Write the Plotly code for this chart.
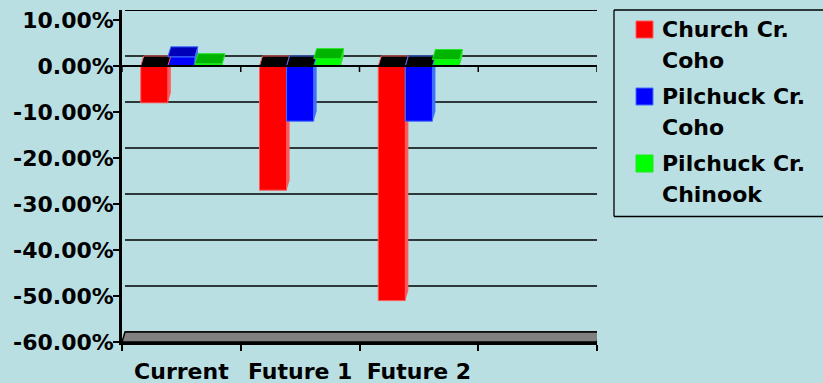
import plotly.graph_objects as go

# ---------------- data ----------------
categories = ["Current", "Future 1", "Future 2"]
church_coho = [-8.0, -27.0, -51.0]
pilchuck_coho = [2.0, -12.0, -12.0]
pilchuck_chinook = [0.5, 1.6, 1.4]
series_lines = [["Church Cr.", "Coho"], ["Pilchuck Cr.", "Coho"], ["Pilchuck Cr.", "Chinook"]]
y_ticks = [-60, -50, -40, -30, -20, -10, 0, 10]
y_tick_labels = [f"{v:.2f}%" for v in y_ticks]

# ---------------- styling ----------------
BG = "#B9DFE3"
FONT = "DejaVu Sans, sans-serif"
FS = 22
front_colors = ["#FF0000", "#0000FF", "#00FF00"]
top_pos_colors = ["#C00000", "#0000B8", "#00B400"]
edge_colors = ["#FF5A5A", "#3F6FFF", "#20E620"]

W, H = 823, 383
ML, MR, MT, MB = 122, 226, 10, 41
PW, PH = W - ML - MR, H - MT - MB
N_SLOTS = 4                      # one empty category slot at the right
X_RANGE = [-0.5, N_SLOTS - 0.5]
PX_PER_UNIT = (342 - 20) / 70.0
DY = 10 / PX_PER_UNIT            # depth offset (vertical) in data units
Y_RANGE = [-60, 10 + DY]
DX = 3 / (PW / N_SLOTS)          # depth offset (horizontal) in data units
GROUP = 0.684
BW = GROUP / 3

series = [church_coho, pilchuck_coho, pilchuck_chinook]
xs = list(range(len(categories)))

fig = go.Figure()
shapes = []

def poly(pts):
    return "M " + " L ".join(f"{x},{y}" for x, y in pts) + " Z"

# back wall grid lines
for v in y_ticks:
    shapes.append(dict(type="line", xref="x", yref="y", layer="below",
                       x0=X_RANGE[0] + DX, x1=X_RANGE[1] + DX, y0=v + DY, y1=v + DY,
                       line=dict(color="black", width=1.3)))
# back wall right edge
shapes.append(dict(type="line", xref="x", yref="y", layer="below",
                   x0=X_RANGE[1] + DX, x1=X_RANGE[1] + DX, y0=-60 + DY, y1=10 + DY,
                   line=dict(color="black", width=1.5)))
# floor
shapes.append(dict(type="path", xref="x", yref="y", layer="below",
                   path=poly([(X_RANGE[0], -60), (X_RANGE[1], -60),
                              (X_RANGE[1] + DX, -60 + DY), (X_RANGE[0] + DX, -60 + DY)]),
                   fillcolor="#808080", line=dict(color="black", width=1.5)))

# bars
for i, vals in enumerate(series):
    off = -GROUP / 2 + i * BW
    fig.add_trace(go.Bar(x=xs, y=vals, name=" ".join(series_lines[i]), width=BW, offset=off,
                         marker=dict(color=front_colors[i],
                                     line=dict(color=edge_colors[i], width=1)),
                         showlegend=False))
    for xc, v in zip(xs, vals):
        x0, x1 = xc + off, xc + off + BW
        # side face (below traces so neighbours hide it)
        shapes.append(dict(type="path", xref="x", yref="y", layer="below",
                           path=poly([(x1, 0), (x1 + DX, DY), (x1 + DX, v + DY), (x1, v)]),
                           fillcolor=edge_colors[i], line=dict(width=0)))
        # top face
        top = max(v, 0)
        fill = top_pos_colors[i] if v > 0 else "black"
        shapes.append(dict(type="path", xref="x", yref="y", layer="above",
                           path=poly([(x0, top), (x1, top), (x1 + DX, top + DY), (x0 + DX, top + DY)]),
                           fillcolor=fill, line=dict(color=edge_colors[i], width=1)))

# top edge of back wall
shapes.append(dict(type="line", xref="x", yref="y", layer="above",
                   x0=X_RANGE[0] + DX, x1=X_RANGE[1] + DX, y0=10 + DY, y1=10 + DY,
                   line=dict(color="black", width=2)))
# zero (category) line with tick marks
shapes.append(dict(type="line", xref="x", yref="y", layer="above",
                   x0=X_RANGE[0], x1=X_RANGE[1], y0=0, y1=0,
                   line=dict(color="black", width=2.2)))
for k in range(N_SLOTS + 1):
    b = X_RANGE[0] + k
    shapes.append(dict(type="line", xref="x", yref="y", layer="above",
                       x0=b, x1=b, y0=0, y1=-6 / PX_PER_UNIT,
                       line=dict(color="black", width=1.5)))

# ---------------- manual legend ----------------
def fx(px):
    return (px - ML) / PW

def fy(py):
    return 1 - (py - MT) / PH

LEG_L, LEG_T, LEG_B, LEG_R = 614, 10, 216.5, 830
for (ax0, ay0, ax1, ay1) in [(LEG_L, LEG_T, LEG_R, LEG_T),
                             (LEG_L, LEG_B, LEG_R, LEG_B),
                             (LEG_L, LEG_T, LEG_L, LEG_B)]:
    shapes.append(dict(type="line", xref="paper", yref="paper",
                       x0=fx(ax0), x1=fx(ax1), y0=fy(ay0), y1=fy(ay1),
                       line=dict(color="black", width=1.3)))
annotations = []
item_tops = [21, 88, 155]
LINE_STEP = 31
for i, lines in enumerate(series_lines):
    t = item_tops[i]
    shapes.append(dict(type="rect", xref="paper", yref="paper",
                       x0=fx(636), x1=fx(653), y0=fy(t), y1=fy(t + 17),
                       fillcolor=front_colors[i], line=dict(color=edge_colors[i], width=1)))
    for j, txt in enumerate(lines):
        annotations.append(dict(xref="paper", yref="paper", x=fx(660),
                                y=fy(t + 8.5 + j * LINE_STEP),
                                xanchor="left", yanchor="middle", align="left", showarrow=False,
                                text=f"<b>{txt}</b>",
                                font=dict(family=FONT, size=FS, color="black")))

fig.update_layout(
    width=W, height=H, autosize=False,
    margin=dict(l=ML, r=MR, t=MT, b=MB, pad=0),
    paper_bgcolor=BG, plot_bgcolor=BG,
    barmode="overlay",
    showlegend=False,
    shapes=shapes, annotations=annotations,
    font=dict(family=FONT, size=FS, color="black"),
    xaxis=dict(range=X_RANGE, tickmode="array", tickvals=xs,
               ticktext=[f"<b>{c}</b>" for c in categories],
               ticks="", showgrid=False, zeroline=False, automargin=False,
               showline=True, linecolor="black", linewidth=2.5,
               ticklabelstandoff=8,
               minor=dict(tick0=-0.5, dtick=1, ticks="outside", ticklen=6,
                          tickwidth=1.5, tickcolor="black", showgrid=False),
               tickfont=dict(family=FONT, size=FS, color="black")),
    yaxis=dict(range=Y_RANGE, tickmode="array", tickvals=y_ticks,
               ticktext=[f"<b>{t}</b>" for t in y_tick_labels],
               ticks="outside", ticklen=6, tickwidth=1.5, tickcolor="black",
               showgrid=False, zeroline=False, automargin=False,
               showline=True, linecolor="black", linewidth=2.5,
               ticklabelstandoff=-5,
               tickfont=dict(family=FONT, size=FS, color="black")),
)

fig.write_html("out.html")
